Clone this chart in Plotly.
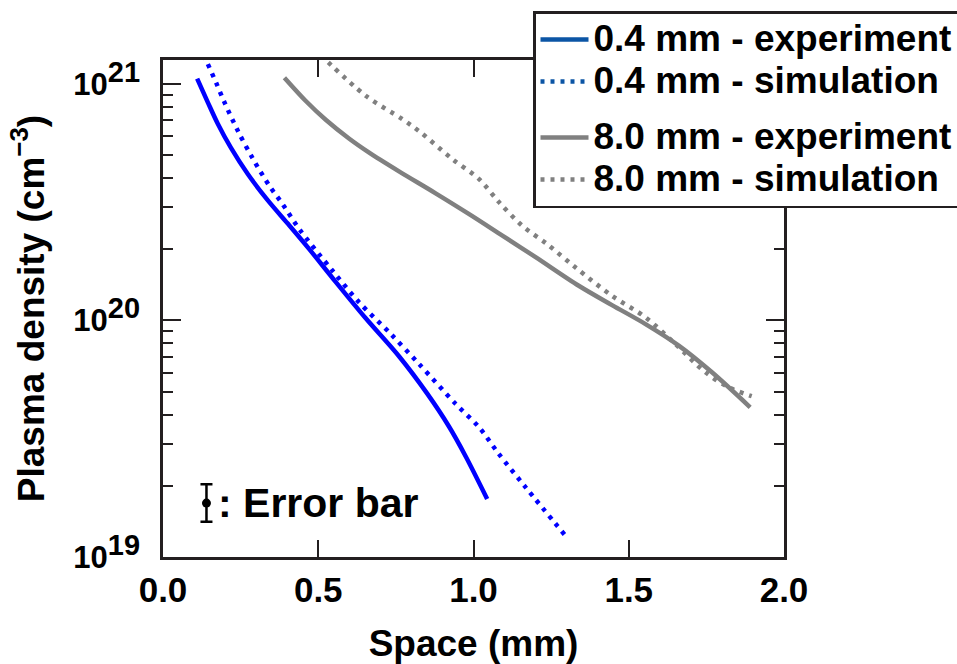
import plotly.graph_objects as go

# ---- data ----
x_04_exp = [0.110, 0.144, 0.176, 0.219, 0.273, 0.337, 0.401, 0.471, 0.546, 0.653, 0.760, 0.851, 0.921, 0.975, 1.044]
y_04_exp = [1.05e21, 8.36e20, 6.79e20, 5.35e20, 4.15e20, 3.22e20, 2.57e20, 2.00e20, 1.51e20, 1.02e20,
            7.05e19, 4.90e19, 3.56e19, 2.66e19, 1.76e19]

x_04_sim = [0.132, 0.142, 0.171, 0.198, 0.241, 0.289, 0.342, 0.385, 0.439, 0.546, 0.632, 0.734, 0.825,
            0.943, 1.018, 1.082, 1.168, 1.296]
y_04_sim = [1.32e21, 1.23e21, 1.01e21, 8.34e20, 6.32e20, 4.83e20, 3.71e20, 3.10e20, 2.43e20, 1.62e20,
            1.19e20, 8.75e19, 6.53e19, 4.43e19, 3.53e19, 2.72e19, 1.97e19, 1.23e19]

x_80_exp = [0.391, 0.460, 0.525, 0.600, 0.664, 0.760, 0.878, 0.986, 1.093, 1.200, 1.339, 1.446, 1.554,
            1.661, 1.768, 1.891]
y_80_exp = [1.06e21, 8.45e20, 7.02e20, 5.85e20, 5.11e20, 4.26e20, 3.44e20, 2.81e20, 2.28e20, 1.85e20,
            1.40e20, 1.16e20, 9.64e19, 7.82e19, 6.03e19, 4.29e19]

x_80_sim = [0.508, 0.654, 0.771, 0.830, 0.932, 1.018, 1.082, 1.157, 1.237, 1.329, 1.446, 1.554, 1.650,
            1.747, 1.822, 1.896]
y_80_sim = [1.32e21, 8.87e20, 7.08e20, 6.22e20, 4.80e20, 3.95e20, 3.16e20, 2.51e20, 2.10e20, 1.67e20,
            1.27e20, 1.03e20, 7.94e19, 6.03e19, 5.21e19, 4.78e19]

err_x = [0.140]
err_y = [1.69e19]
err_plus = [0.34e19]
err_minus = [0.28e19]

legend_names = ["0.4 mm - experiment", "0.4 mm - simulation", "8.0 mm - experiment", "8.0 mm - simulation"]
x_ticks = [0.0, 0.5, 1.0, 1.5, 2.0]
x_tick_text = ["0.0", "0.5", "1.0", "1.5", "2.0"]
y_ticks = [1e19, 1e20, 1e21]
y_tick_text = ['10<sup><span style="font-size:29px">19</span></sup>',
               '10<sup><span style="font-size:29px">20</span></sup>',
               '10<sup><span style="font-size:29px">21</span></sup>']

BLUE = "#0000ff"
BLUE_LEG = "#0b55a5"
GRAY = "#808080"
LW = 4.5
DOT = "4px,6px"
FONT = "Liberation Sans, Arial, Helvetica, sans-serif"
AX = "#231f20"

fig = go.Figure()

curve_line = dict(width=LW, shape="spline", smoothing=0.9)
fig.add_trace(go.Scatter(x=x_04_exp, y=y_04_exp, mode="lines", line=dict(color=BLUE, **curve_line),
                         showlegend=False))
fig.add_trace(go.Scatter(x=x_04_sim, y=y_04_sim, mode="lines", line=dict(color=BLUE, dash=DOT, **curve_line),
                         showlegend=False))
fig.add_trace(go.Scatter(x=x_80_exp, y=y_80_exp, mode="lines", line=dict(color=GRAY, **curve_line),
                         showlegend=False))
fig.add_trace(go.Scatter(x=x_80_sim, y=y_80_sim, mode="lines", line=dict(color=GRAY, dash=DOT, **curve_line),
                         showlegend=False))

# legend entries
leg_styles = [(BLUE_LEG, None, "a"), (BLUE_LEG, DOT, "a"), (GRAY, None, "b"), (GRAY, DOT, "b")]
for name, (c, d, g) in zip(legend_names, leg_styles):
    fig.add_trace(go.Scatter(x=[None], y=[None], mode="lines",
                             name='<span style="font-size:37px">' + name + '</span>', legendgroup=g,
                             line=dict(color=c, width=LW, dash=d)))

# error bar sample
fig.add_trace(go.Scatter(x=err_x, y=err_y, mode="markers", showlegend=False,
                         marker=dict(color="black", size=9),
                         error_y=dict(type="data", symmetric=False, array=err_plus, arrayminus=err_minus,
                                      color="black", thickness=2.5, width=6)))
fig.add_annotation(x=0.170, y=19.228, xref="x", yref="y", text=": Error bar", showarrow=False,
                   xanchor="left", yanchor="middle", font=dict(size=41, family=FONT, color="black", weight="bold"))

fig.update_layout(
    width=957, height=664,
    margin=dict(l=163, r=173, t=60, b=107, autoexpand=False),
    paper_bgcolor="white", plot_bgcolor="white",
    font=dict(family=FONT, size=35, color="black", weight="bold"),
    legend=dict(x=533 / 957, y=1 - 11 / 664, xref="container", yref="container", xanchor="left", yanchor="top",
                bgcolor="white", bordercolor=AX, borderwidth=2.5,
                font=dict(size=30, family=FONT, color="black", weight="bold"),
                tracegroupgap=14, traceorder="grouped", itemwidth=48),
)

fig.update_xaxes(range=[0, 2], tickvals=x_ticks, ticktext=x_tick_text, automargin=False,
                 ticks="inside", ticklen=17, tickwidth=2, tickcolor=AX,
                 showline=True, linecolor=AX, linewidth=2.5, mirror="ticks",
                 showgrid=False, zeroline=False,
                 title=dict(text="Space (mm)", standoff=30, font=dict(size=37)),
                 tickfont=dict(size=35), ticklabelstandoff=0)

fig.update_yaxes(type="log", range=[19.0, 21.1], tickvals=y_ticks, ticktext=y_tick_text, automargin=False,
                 ticks="inside", ticklen=18, tickwidth=2, tickcolor=AX,
                 minor=dict(ticks="inside", ticklen=10, tickwidth=2, tickcolor=AX, dtick="D1", showgrid=False),
                 showline=True, linecolor=AX, linewidth=2.5, mirror="ticks",
                 showgrid=False, zeroline=False,
                 title=dict(text="Plasma density (cm<sup>−3</sup>)", standoff=18, font=dict(size=37)),
                 tickfont=dict(size=31), ticklabelstandoff=14)

fig.write_html("out.html", config={"displayModeBar": False},
               post_script="document.body.style.margin='0';document.body.style.overflow='hidden';")
